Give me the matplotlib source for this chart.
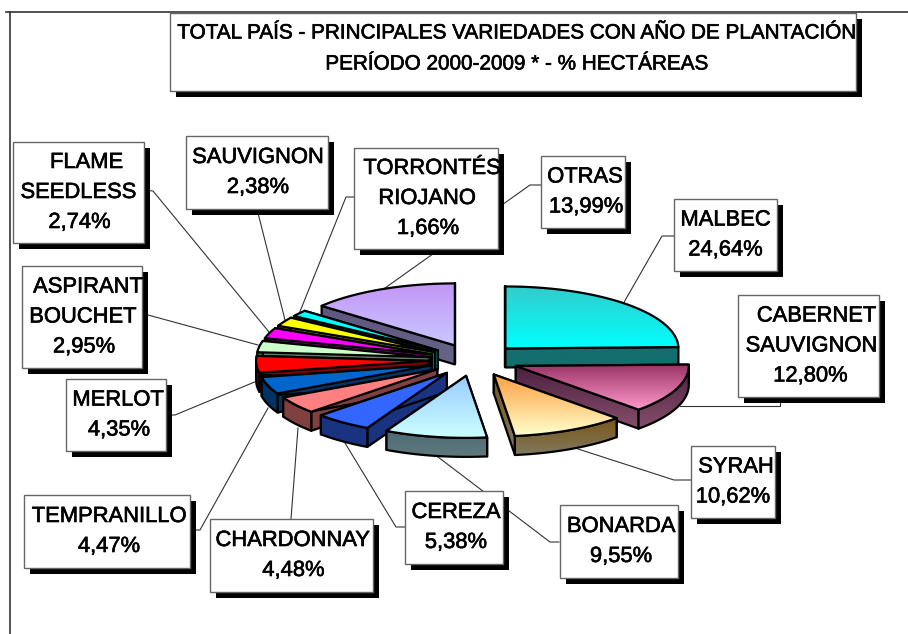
import numpy as np
import matplotlib
matplotlib.use('Agg')
import matplotlib.pyplot as plt
import matplotlib.patheffects as pe
from matplotlib.colors import LinearSegmentedColormap
from matplotlib.patches import Polygon, Rectangle

plt.rcParams['font.family'] = ['Liberation Sans', 'DejaVu Sans']

title_lines = ['TOTAL PAÍS - PRINCIPALES VARIEDADES CON AÑO DE PLANTACIÓN',
               'PERÍODO 2000-2009 * - % HECTÁREAS']

names = [['MALBEC'], ['CABERNET', 'SAUVIGNON'], ['SYRAH'], ['BONARDA'], ['CEREZA'],
         ['CHARDONNAY'], ['TEMPRANILLO'], ['MERLOT'], ['ASPIRANT', 'BOUCHET'],
         ['FLAME', 'SEEDLESS'], ['SAUVIGNON'], ['TORRONTÉS', 'RIOJANO'], ['OTRAS']]
values = [24.64, 12.80, 10.62, 9.55, 5.38, 4.48, 4.47, 4.35, 2.95, 2.74, 2.38, 1.66, 13.99]

# top gradient (upper, lower) and wall gradient (upper, lower)
top_colors = [('#33cccc', '#00ffff'), ('#993366', '#ff99cc'), ('#ffa040', '#ffffcc'),
              ('#99ccff', '#ccffff'), ('#3366ff', '#3366ff'), ('#ff8080', '#ff8080'),
              ('#0066cc', '#0066cc'), ('#ff0000', '#ff0000'), ('#ccffcc', '#ccffcc'),
              ('#ff00ff', '#ff00ff'), ('#ffff00', '#ffff00'), ('#00ffff', '#00ffff'),
              ('#c495f8', '#c8c8ff')]
wall_colors = [('#146e6e', '#146e6e'), ('#4d2040', '#854f6c'), ('#7a5518', '#807a5c'),
               ('#4d6a75', '#5f7a7d'), ('#1a3380', '#1a3380'), ('#804040', '#804040'),
               ('#003366', '#003366'), ('#800000', '#800000'), ('#667f66', '#667f66'),
               ('#800080', '#800080'), ('#808000', '#808000'), ('#006666', '#006666'),
               ('#5f5580', '#666688')]

# box left, top, right, bottom in pixels, and x shift of each text line
boxes = [(674, 199, 777, 271), (738, 295, 879, 397), (691, 446, 775, 518), (560, 505, 678, 578),
         (405, 491, 503, 564), (210, 519, 373, 592), (24, 495, 190, 568), (66, 379, 166, 451),
         (22, 266, 142, 368), (13, 142, 144, 243), (186, 136, 328, 209), (354, 148, 498, 249),
         (541, 156, 625, 228)]
shifts = [(0, 0), (8, 3, 2), (3, 0), (2, 2), (2, 2), (1, 2), (2, 2), (2, 3), (6, 1, 2),
          (8, 0, 1), (1, 1), (6, 1, 2), (2, 3)]

# leader paths from box to slice
leaders = [[(674, 236), (662, 236), (623, 304)], [(780, 397), (780, 406), (680, 406)],
           [(691, 480), (674, 480), (575, 448)], [(559, 542), (550, 542), (438, 457)],
           [(405, 527), (396, 527), (345, 443)], [(291, 519), (298, 428)],
           [(192, 530), (200, 530), (268, 408)], [(165, 415), (175, 415), (257, 381)],
           [(142, 315), (148, 315), (258, 345)], [(144, 190), (153, 191), (269, 332)],
           [(257, 209), (285, 320)], [(354, 197), (346, 197), (299, 314)],
           [(541, 185), (530, 185), (385, 288)]]

cx, cy = 474, 360
rx, ry = 173, 62
depth = 19
explode = 0.26

fig = plt.figure(figsize=(9.08, 6.34), dpi=100)
ax = fig.add_axes([0, 0, 1, 1])
z = 10
heavy = [pe.withStroke(linewidth=0.45, foreground='black')]


def gradient_patch(pts, colors):
    global z
    pts = np.array(pts)
    poly = Polygon(pts, closed=True, facecolor='none', edgecolor='black', lw=1.6, joinstyle='round', zorder=z + 1)
    ax.add_patch(poly)
    cmap = LinearSegmentedColormap.from_list('g', colors)
    im = ax.imshow(np.linspace(0, 1, 64).reshape(-1, 1), cmap=cmap, aspect='auto', zorder=z,
                   extent=(pts[:, 0].min(), pts[:, 0].max(), pts[:, 1].max(), pts[:, 1].min()))
    im.set_clip_path(poly)
    z += 2


def draw_slice(i, start, end):
    mid = np.radians((start + end) / 2)
    ax0 = cx + explode * rx * np.sin(mid)
    ay0 = cy - explode * ry * np.cos(mid)
    th = np.radians(np.linspace(start, end, 60))
    xs = ax0 + rx * np.sin(th)
    ys = ay0 - ry * np.cos(th)
    # the two cut faces
    gradient_patch([(ax0, ay0), (xs[0], ys[0]), (xs[0], ys[0] + depth), (ax0, ay0 + depth)], wall_colors[i])
    gradient_patch([(ax0, ay0), (xs[-1], ys[-1]), (xs[-1], ys[-1] + depth), (ax0, ay0 + depth)], wall_colors[i])
    # outer wall
    front = np.cos(th) <= 0.02
    if front.any():
        fx, fy = xs[front], ys[front]
        rim = list(zip(fx, fy)) + list(zip(fx[::-1], fy[::-1] + depth))
        gradient_patch(rim, wall_colors[i])
    gradient_patch([(ax0, ay0)] + list(zip(xs, ys)), top_colors[i])


angles = np.cumsum([0] + values) / sum(values) * 360
mids = (angles[:-1] + angles[1:]) / 2
order = np.argsort(-np.cos(np.radians(mids)))
for i in order:
    draw_slice(i, angles[i], angles[i + 1])

# frame lines
ax.plot([9.5, 9.5], [12, 634], color='#333333', lw=1.2, zorder=1)
ax.plot([6, 908], [12, 12], color='#333333', lw=1.2, zorder=1)


def draw_box(l, t, r, b):
    ax.add_patch(Rectangle((l + 6, t + 6), r - l, b - t, facecolor='black', edgecolor='none', zorder=200))
    ax.add_patch(Rectangle((l, t), r - l, b - t, facecolor='white', edgecolor='#666666', lw=1.0, zorder=201))


draw_box(170, 13, 856, 91)
for y, line in zip([33, 64], title_lines):
    ax.text(516, y, line, ha='center', va='center', fontsize=14.9, color='black', zorder=202, path_effects=heavy)

for i, (name, val) in enumerate(zip(names, values)):
    l, t, r, b = boxes[i]
    draw_box(l, t, r, b)
    lines = name + [f'{val:.2f}'.replace('.', ',') + '%']
    y0 = (t + b) / 2 - 30 * (len(lines) - 1) / 2
    for j, line in enumerate(lines):
        ax.text((l + r) / 2 + shifts[i][j], y0 + 30 * j, line, ha='center', va='center',
                fontsize=15.8, color='black', zorder=202, path_effects=heavy)
    pts = np.array(leaders[i])
    ax.plot(pts[:, 0], pts[:, 1], color='#333333', lw=0.8, zorder=5)

ax.set_xlim(0, 908)
ax.set_ylim(634, 0)
ax.axis('off')
fig.savefig('out.png', dpi=100, facecolor='white')
